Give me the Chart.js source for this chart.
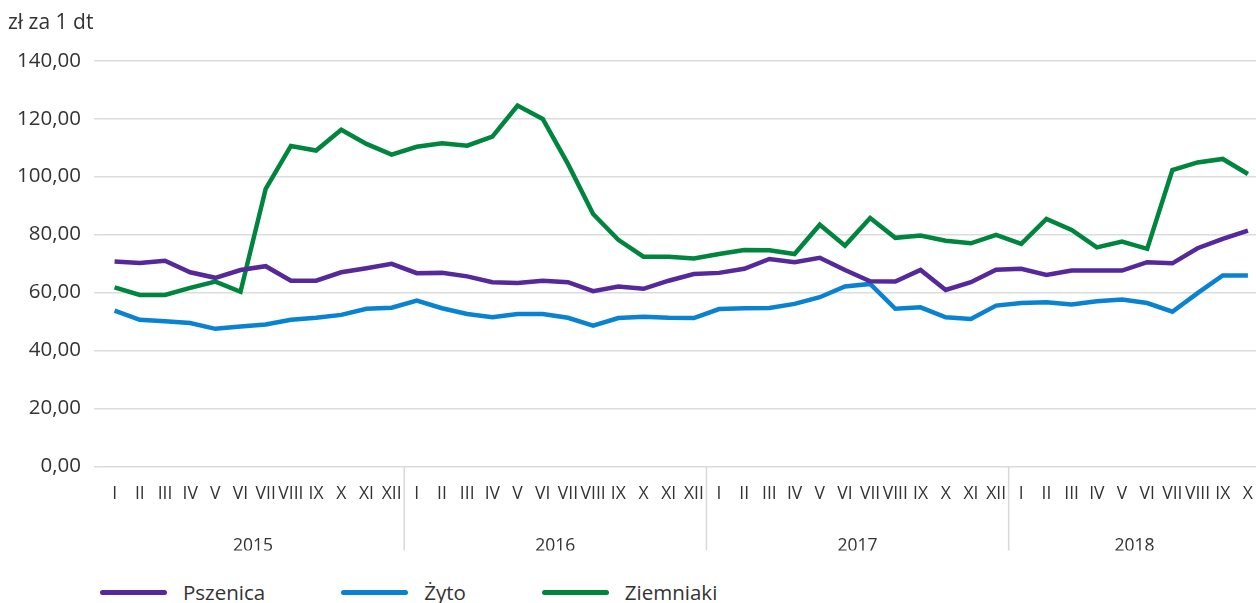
<!DOCTYPE html>
<html lang="pl">
<head>
<meta charset="UTF-8">
<title>Ceny produktów rolnych</title>
<script src="https://cdn.jsdelivr.net/npm/chart.js"></script>
<style>
  html, body { margin: 0; padding: 0; background: #fff; overflow: hidden; }
  #wrap { position: relative; width: 1256px; height: 603px; overflow: hidden; }
  #box { position: absolute; left: 0; top: 0; width: 1270px; height: 560px; }
  #legend { position: absolute; left: 100px; top: 578px; display: flex; gap: 76px;
            font: 20.5px 'Open Sans', sans-serif; color: #333; white-space: nowrap; }
  .item { display: flex; align-items: center; }
  .swatch { width: 67px; height: 5px; border-radius: 3px; margin-right: 16px; }
</style>
</head>
<body>
<div id="wrap">
  <div id="box"><canvas id="chart"></canvas></div>
  <div id="legend"></div>
</div>
<script>
// dane
const months = ['I', 'II', 'III', 'IV', 'V', 'VI', 'VII', 'VIII', 'IX', 'X', 'XI', 'XII'];
const years = ['2015', '2016', '2017', '2018'];
const monthsPerYear = [12, 12, 12, 10];

const pszenica = [
  70.7, 70.2, 71.0, 67.0, 65.1, 67.8, 69.1, 64.1, 64.1, 67.0, 68.4, 69.9,
  66.7, 66.8, 65.6, 63.6, 63.3, 64.1, 63.6, 60.5, 62.1, 61.3, 64.1, 66.4,
  66.8, 68.2, 71.6, 70.5, 72.0, 67.8, 63.9, 63.8, 67.8, 60.9, 63.6, 67.9,
  68.2, 66.1, 67.6, 67.6, 67.6, 70.5, 70.1, 75.3, 78.5, 81.4
];
const zyto = [
  53.8, 50.6, 50.1, 49.5, 47.5, 48.3, 49.0, 50.6, 51.3, 52.3, 54.4, 54.8,
  57.2, 54.6, 52.6, 51.5, 52.6, 52.6, 51.3, 48.6, 51.2, 51.7, 51.3, 51.2,
  54.3, 54.6, 54.7, 56.1, 58.4, 62.1, 63.0, 54.4, 54.9, 51.5, 50.9, 55.5,
  56.4, 56.7, 55.9, 57.0, 57.6, 56.4, 53.4, 59.8, 65.9, 65.9
];
const ziemniaki = [
  61.8, 59.2, 59.2, 61.6, 63.8, 60.3, 95.8, 110.6, 109.0, 116.2, 111.3, 107.6,
  110.3, 111.5, 110.7, 113.8, 124.5, 119.9, 104.4, 87.1, 78.2, 72.4, 72.4, 71.8,
  73.3, 74.7, 74.6, 73.3, 83.4, 76.2, 85.7, 78.9, 79.7, 77.9, 77.0, 79.9,
  76.8, 85.4, 81.6, 75.6, 77.6, 75.1, 102.3, 104.9, 106.1, 100.9
];

const seriesNames = ['Pszenica', 'Żyto', 'Ziemniaki'];
const seriesColors = ['#55289b', '#0a82d2', '#00853f'];

const labels = years.flatMap((y, i) => months.slice(0, monthsPerYear[i]));

// środki grup lat (dla podpisów lat)
const yearCenters = [];
let acc = 0;
monthsPerYear.forEach(c => { yearCenters.push(acc + (c - 1) / 2); acc += c; });

Chart.defaults.font.family = "'Open Sans', sans-serif";
Chart.defaults.color = '#333';

// pionowe linie oddzielające lata
const yearLines = {
  id: 'yearLines',
  afterDraw(chart) {
    const x = chart.scales.x, yr = chart.scales.yr, ctx = chart.ctx;
    ctx.save();
    ctx.strokeStyle = '#d9d9d9';
    ctx.lineWidth = 1.5;
    let n = 0;
    monthsPerYear.slice(0, -1).forEach(c => {
      n += c;
      const px = x.getPixelForValue(n - 0.5);
      ctx.beginPath();
      ctx.moveTo(px, chart.chartArea.bottom);
      ctx.lineTo(px, yr.bottom);
      ctx.stroke();
    });
    ctx.restore();
  }
};

const allData = [pszenica, zyto, ziemniaki];

new Chart(document.getElementById('chart'), {
  type: 'line',
  data: {
    labels: labels,
    datasets: allData.map((d, i) => ({
      label: seriesNames[i],
      data: d,
      borderColor: seriesColors[i],
      backgroundColor: seriesColors[i],
      borderWidth: 4.5,
      pointRadius: 0,
      tension: 0,
      fill: false
    }))
  },
  options: {
    responsive: true,
    maintainAspectRatio: false,
    animation: false,
    layout: { padding: { left: 8, right: 2, top: 0, bottom: 9.5 } },
    plugins: {
      legend: { display: false },
      tooltip: { enabled: false },
      title: {
        display: true,
        text: 'zł za 1 dt',
        align: 'start',
        color: '#333',
        font: { size: 21, weight: 'normal' },
        padding: { top: 10, bottom: 25.5 }
      }
    },
    scales: {
      x: {
        offset: true,
        weight: 0,
        grid: { display: false, drawTicks: false },
        border: { display: false },
        ticks: { autoSkip: false, maxRotation: 0, padding: 17, font: { size: 17.5 }, color: '#333' },
        afterFit: s => { s.height = 42; }
      },
      yr: {
        type: 'linear',
        position: 'bottom',
        weight: 1,
        min: -0.5,
        max: labels.length - 0.5,
        grid: { display: false, drawTicks: false },
        border: { display: false },
        afterBuildTicks: s => { s.ticks = yearCenters.map(v => ({ value: v })); },
        ticks: {
          autoSkip: false, maxRotation: 0, padding: 27, font: { size: 17.5 }, color: '#333',
          callback: (v, i) => years[i]
        },
        afterFit: s => { s.height = 42; }
      },
      y: {
        min: 0,
        max: 140,
        border: { display: false },
        grid: { color: '#dcdcdc', lineWidth: 1.5, tickLength: 8 },
        ticks: {
          stepSize: 20, padding: 13, font: { size: 20.5 }, color: '#333',
          callback: v => v.toFixed(2).replace('.', ',')
        },
        afterFit: s => { s.width = 94; }
      }
    }
  },
  plugins: [yearLines]
});

// legenda
const legend = document.getElementById('legend');
seriesNames.forEach((name, i) => {
  const item = document.createElement('div');
  item.className = 'item';
  item.innerHTML = '<span class="swatch" style="background:' + seriesColors[i] + '"></span><span>' + name + '</span>';
  legend.appendChild(item);
});
</script>
</body>
</html>
